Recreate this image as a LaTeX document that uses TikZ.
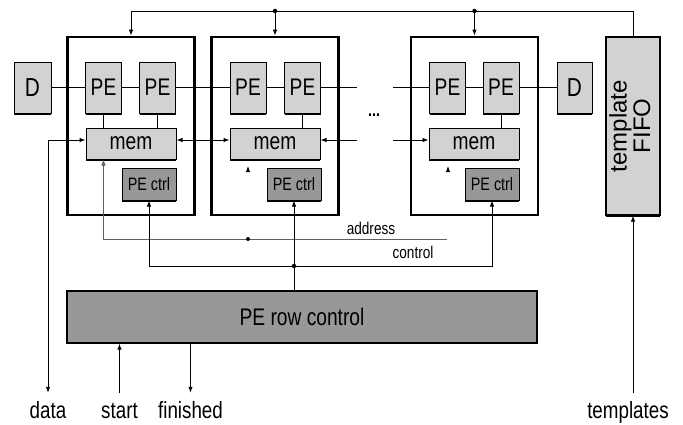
\documentclass[tikz,border=0pt]{standalone}
\usepackage{fontspec}
\setmainfont{Liberation Sans}[FakeStretch=0.8]
\newfontfamily\fifoFont{Liberation Sans}
\usetikzlibrary{arrows.meta, shadows}
\definecolor{boxLight}{RGB}{210,210,210}
\definecolor{boxDark}{RGB}{152,152,152}
\definecolor{addrGray}{RGB}{95,95,95}
\def\rowBusTop{-11}
\def\rowPE{-87.5}
\def\rowBus{-140}
\def\rowMem{-143.5}
\def\rowCtl{-184}
\def\rowCell{-126}
\def\rowTip{-166}
\def\rowAddr{-239}
\def\rowCtrl{-266}
\def\rowRow{-317}
\def\rowLbl{-418}
\def\colCellA{131}
\def\colCellB{275}
\def\colCellC{474.5}
\def\colFifo{633}

\begin{document}
\begin{tikzpicture}[x=1pt, y=1pt,
    >={Latex[length=6pt,width=4.5pt]},
    wire/.style     ={line width=0.9pt},
    arrow/.style    ={->, line width=0.9pt},
    biarrow/.style  ={<->, line width=0.9pt},
    addrWire/.style ={line width=0.6pt, addrGray},
    cellBox/.style  ={rectangle, draw, line width=2.8pt, minimum width=127pt, minimum height=178pt, inner sep=0pt},
    lightBox/.style ={rectangle, draw, line width=1pt, fill=boxLight, inner sep=0pt,
                      drop shadow={shadow xshift=0pt, shadow yshift=-1.5pt, fill=black, opacity=1}},
    peBox/.style    ={lightBox, minimum width=36pt, minimum height=51pt, font=\fontsize{24}{26}\selectfont},
    memBox/.style   ={lightBox, minimum width=90pt, minimum height=31pt, font=\fontsize{24}{26}\selectfont},
    ctlBox/.style   ={lightBox, fill=boxDark, minimum width=54pt, minimum height=32pt, font=\fontsize{18}{20}\selectfont},
    rowBox/.style   ={rectangle, draw, line width=1.3pt, fill=boxDark, inner sep=0pt,
                      minimum width=470pt, minimum height=52pt, font=\fontsize{24}{26}\selectfont},
    portLabel/.style={anchor=base, inner sep=0pt, inner ysep=8pt, text height=17pt, text depth=5pt,
                      font=\fontsize{23.5}{25}\selectfont},
    busLabel/.style ={anchor=base, inner sep=1pt, font=\fontsize{17}{19}\selectfont},
    junction/.style ={circle, fill, inner sep=0pt, minimum size=4.5pt},
]
\useasboundingbox (0,0) rectangle (683,-424);

% ---------------- cells ----------------
\node[cellBox] (cellA) at (\colCellA,\rowCell) {};
\node[cellBox] (cellB) at (\colCellB,\rowCell) {};
\node[cellBox] (cellC) at (\colCellC,\rowCell) {};

\node[peBox] (peA1) at (103.5,\rowPE) {PE};
\node[peBox] (peA2) at (157.5,\rowPE) {PE};
\node[peBox] (peB1) at (248,\rowPE)   {PE};
\node[peBox] (peB2) at (302.5,\rowPE) {PE};
\node[peBox] (peC1) at (447.5,\rowPE) {PE};
\node[peBox] (peC2) at (501,\rowPE)   {PE};

\node[memBox] (memA) at (131,\rowMem) {mem};
\node[memBox] (memB) at (275,\rowMem) {mem};
\node[memBox] (memC) at (474,\rowMem) {mem};

\node[ctlBox] (ctlA) at (149,\rowCtl) {PE ctrl};
\node[ctlBox] (ctlB) at (294,\rowCtl) {PE ctrl};
\node[ctlBox] (ctlC) at (492,\rowCtl) {PE ctrl};

% D registers and template FIFO
\node[peBox, minimum width=37pt, font=\fontsize{26}{28}\selectfont] (dIn)  at (32.5,\rowPE)  {D};
\node[peBox, minimum width=35pt, font=\fontsize{26}{28}\selectfont] (dOut) at (574.5,\rowPE) {D};
\node[lightBox, line width=1.4pt, minimum width=54pt, minimum height=178pt, font=\fifoFont\fontsize{24}{22}\selectfont]
     (fifo) at (\colFifo,\rowCell) {\rotatebox{90}{\begin{tabular}{@{}c@{}}template\\FIFO\end{tabular}}};

\node[rowBox] (rowCtl) at (302,\rowRow) {PE row control};

\node[anchor=base, inner sep=0pt, font=\fontsize{18}{20}\selectfont\bfseries] (gapDots) at (374,-116) {...};

% ---------------- labels ----------------
\node[portLabel] (lblData)     at (48,\rowLbl)    {data};
\node[portLabel] (lblStart)    at (119.5,\rowLbl) {start};
\node[portLabel] (lblFinished) at (190.5,\rowLbl) {finished};
\node[portLabel] (lblTempl)    at (628,\rowLbl)   {templates};
\node[busLabel]  (lblAddr)     at (371,-234)      {address};
\node[busLabel]  (lblCtrl)     at (413,-258)      {control};

% ---------------- top bus from FIFO ----------------
\coordinate (busTop) at (\colFifo,\rowBusTop);
\draw[arrow] (fifo.north) -- (busTop) -| (cellA.north);
\node[junction] (jTopB) at (cellB.north |- busTop) {};
\node[junction] (jTopC) at (cellC.north |- busTop) {};
\draw[arrow] (jTopB) -- (cellB.north);
\draw[arrow] (jTopC) -- (cellC.north);

% ---------------- PE chain ----------------
\coordinate (gapL) at (357,\rowPE);
\coordinate (gapR) at (393,\rowPE);
\draw[wire] (dIn)  -- (peA1);
\draw[wire] (peA1) -- (peA2);
\draw[wire] (peA2) -- (peB1);
\draw[wire] (peB1) -- (peB2);
\draw[wire] (peB2) -- (gapL);
\draw[wire] (gapR) -- (peC1);
\draw[wire] (peC1) -- (peC2);
\draw[wire] (peC2) -- (dOut);

% PE -> mem
\draw[wire] (peA1.south) -- (peA1.south |- memA.north);
\draw[wire] (peA2.south) -- (peA2.south |- memA.north);
\draw[wire] (peB2.south) -- (peB2.south |- memB.north);
\draw[wire] (peC2.south) -- (peC2.south |- memC.north);

% ---------------- mem bus ----------------
\coordinate (busRow) at (0,\rowBus);
\draw[biarrow] (memA.west |- busRow) -| (lblData.north);
\draw[biarrow] (memA.east |- busRow) -- (memB.west |- busRow);
\draw[arrow] (gapL |- busRow) -- (memB.east |- busRow);
\draw[arrow] (gapR |- busRow) -- (memC.west |- busRow);

% ---------------- address ----------------
\coordinate (addrEnd) at (447,\rowAddr);
\draw[addrWire, ->] (addrEnd) -| (memA.south -| peA1);
\node[junction, minimum size=4pt] (jAddr) at (peB1 |- addrEnd) {};
\coordinate (tipB) at (248,\rowTip);
\coordinate (tipC) at (448,\rowTip);
\draw[arrow] (tipB) ++(0,-5) -- (tipB);
\draw[arrow] (tipC) ++(0,-5) -- (tipC);

% ---------------- control ----------------
\coordinate (ctrlRow) at (0,\rowCtrl);
\draw[biarrow] (ctlA.south) -- (ctlA.south |- ctrlRow) -| (ctlC.south);
\draw[arrow] (rowCtl.north -| ctlB) -- (ctlB.south);
\node[junction] (jCtrl) at (ctlB |- ctrlRow) {};

% ---------------- row control ports ----------------
\draw[arrow] (lblStart.north) -- (lblStart.north |- rowCtl.south);
\draw[arrow] (rowCtl.south -| lblFinished) -- (lblFinished.north);
\draw[arrow] (fifo.south |- lblTempl.north) -- (fifo.south);

\end{tikzpicture}
\end{document}
